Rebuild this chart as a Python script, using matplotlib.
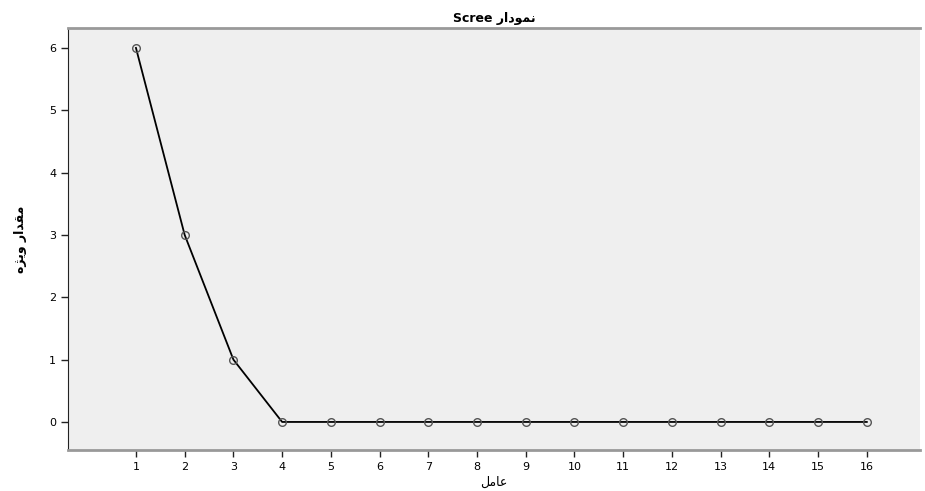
import numpy as np
from matplotlib import pyplot as plt

# scree data
factors = np.arange(1, 17)
eigen = [6, 3, 1, 0, 0, 0, 0, 0, 0, 0, 0, 0, 0, 0, 0, 0]

# Arabic/Persian text in visual order with presentation forms (matplotlib has no shaping)
title = 'Scree ' + '\uFEAD\uFE8D\uFEA9\uFEEE\uFEE4\uFEE7'          # نمودار Scree
xlab = '\uFEDE\uFEE3\uFE8E\uFECB'                                    # عامل
ylab = '\uFEE9\uFB8B\uFBFE\uFEED \uFEAD\uFE8D\uFEAA\uFED8\uFEE3'     # مقدار ویژه

plt.rcParams['font.family'] = ['DejaVu Sans']

fig = plt.figure(figsize=(9.25, 4.91), dpi=100)
ax = fig.add_axes([0.0735, 0.0835, 0.921, 0.8595])
ax.set_facecolor('#efefef')

ax.plot(factors, eigen, color='black', lw=1.3, marker='o', ms=5.5,
        mfc='none', mec='#555555', mew=1.0)

ax.set_xlim(-0.395, 17.09)
ax.set_ylim(-0.45, 6.32)
ax.set_xticks(factors)
ax.set_yticks(range(0, 7))
ax.tick_params(labelsize=8, length=5, width=1, direction='out', color='#222222')

for s in ['top', 'bottom']:
    ax.spines[s].set_color('#999999')
    ax.spines[s].set_linewidth(2)
ax.spines['left'].set_color('#222222')
ax.spines['right'].set_visible(False)

ax.set_title(title, fontsize=9, fontweight='bold', pad=4)
ax.set_xlabel(xlab, fontsize=9, labelpad=3)
ax.set_ylabel(ylab, fontsize=9, fontweight='bold', labelpad=16)

fig.savefig('out.png', dpi=100)
